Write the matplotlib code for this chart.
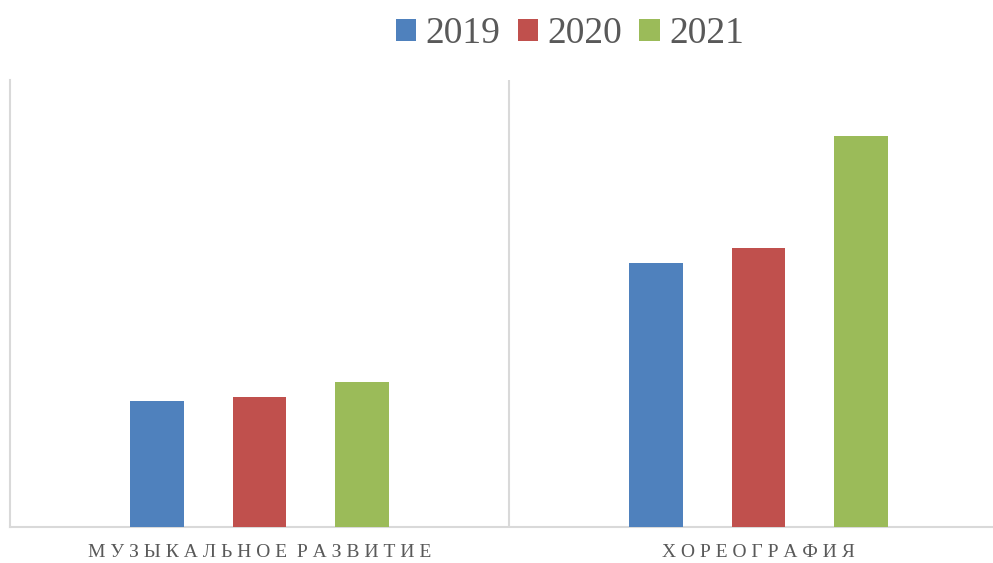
import numpy as np
import matplotlib.pyplot as plt
from matplotlib import rcParams

rcParams['font.family'] = ['Liberation Serif', 'DejaVu Serif']

categories = ['МУЗЫКАЛЬНОЕ РАЗВИТИЕ', 'ХОРЕОГРАФИЯ']
years = ['2019', '2020', '2021']
values_2019 = [126, 264]
values_2020 = [130, 279]
values_2021 = [145, 391]
colors = ['#4f81bd', '#c0504d', '#9bbb59']

fig = plt.figure(figsize=(9.93, 5.63), dpi=100)
ax = fig.add_axes([10 / 993, 36 / 563, 998 / 993, 447 / 563])

x = np.arange(len(categories))
w = 0.108
off = 0.205
series = [values_2019, values_2020, values_2021]
for i, vals in enumerate(series):
    ax.bar(x + (i - 1) * off, vals, width=w, color=colors[i], label=years[i], zorder=3)

ax.set_xlim(-0.5, 1.5)
ax.set_ylim(0, 447)
ax.set_yticks([])
ax.set_xticks(x)
# letter-spaced category labels
ax.set_xticklabels([' '.join(c).replace('   ', '  ') for c in categories], fontsize=14, color='#595959')
ax.tick_params(axis='x', length=0, pad=12)
ax.axvline(0.5, color='#d9d9d9', lw=1.5, zorder=1)
for s in ['top', 'right']:
    ax.spines[s].set_visible(False)
for s in ['left', 'bottom']:
    ax.spines[s].set_color('#d9d9d9')
    ax.spines[s].set_linewidth(1.5)

fig.legend(loc='upper center', bbox_to_anchor=(0.574, 1.03), ncol=3, frameon=False,
           fontsize=27, labelcolor='#595959', handlelength=0.55, handleheight=0.55,
           handletextpad=0.25, columnspacing=0.45)

plt.savefig('out.png', dpi=100)
